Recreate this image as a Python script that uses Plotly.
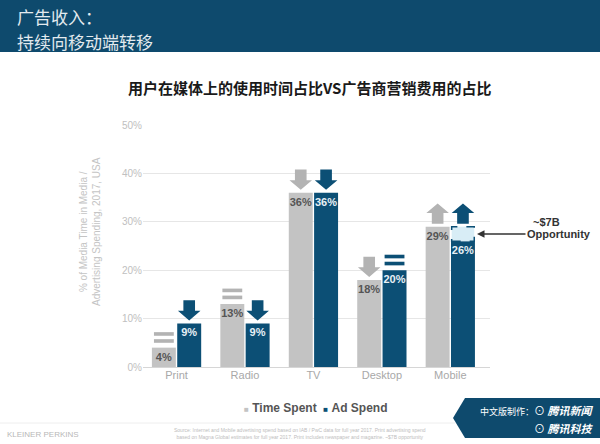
import plotly.graph_objects as go

CATEGORIES = ["Print", "Radio", "TV", "Desktop", "Mobile"]
TIME_SPENT = [4, 13, 36, 18, 29]
AD_SPEND = [9, 9, 36, 20, 26]
TIME_TREND = ["flat", "flat", "down", "down", "up"]
AD_TREND = ["down", "down", "down", "flat", "up"]
OPPORTUNITY_CATEGORY = "Mobile"
OPPORTUNITY_RANGE = [26, 29]
Y_TICKS = [0, 10, 20, 30, 40, 50]

GRAY = "#c3c3c3"
GRAY_ARROW = "#b3b3b3"
BLUE = "#0c4f75"
HEADER_BLUE = "#0e4a6d"
CJK = "Noto Sans CJK SC"
SANS = "Liberation Sans"

# plot area in pixels (600x444 canvas)
L, R, T, B = 143, 110, 125, 77
W, H = 600 - L - R, 444 - T - B

BAR_W = 0.35
BAR_GAP = 0.02


def px_x(px):
    return (px - L) / W


def px_y(py):
    return (444 - B - py) / H


def arrow_path(xc, base, direction):
    """Block arrow sitting just above a bar top, in data units."""
    hw_head, hw_stem = 0.165, 0.085
    gap, stem_h, head_h = 0.6, 2.2, 2.0
    y0 = base + gap
    if direction == "down":
        pts = [
            (xc, y0), (xc - hw_head, y0 + head_h), (xc - hw_stem, y0 + head_h),
            (xc - hw_stem, y0 + head_h + stem_h), (xc + hw_stem, y0 + head_h + stem_h),
            (xc + hw_stem, y0 + head_h), (xc + hw_head, y0 + head_h),
        ]
    else:
        pts = [
            (xc - hw_stem, y0), (xc - hw_stem, y0 + stem_h), (xc - hw_head, y0 + stem_h),
            (xc, y0 + stem_h + head_h), (xc + hw_head, y0 + stem_h),
            (xc + hw_stem, y0 + stem_h), (xc + hw_stem, y0),
        ]
    return "M " + " L ".join(f"{x:.4f},{y:.4f}" for x, y in pts) + " Z"


def trend_shapes(xc, base, direction, color):
    if direction == "flat":
        shapes = []
        for k in range(2):
            y0 = base + 1.0 + k * 1.45
            shapes.append(dict(
                type="rect", xref="x", yref="y",
                x0=xc - 0.145, x1=xc + 0.145, y0=y0, y1=y0 + 0.75,
                fillcolor=color, line=dict(width=0),
            ))
        return shapes
    return [dict(type="path", xref="x", yref="y", path=arrow_path(xc, base, direction),
                 fillcolor=color, line=dict(width=0))]


xs = list(range(len(CATEGORIES)))
gray_x = [x - BAR_W / 2 - BAR_GAP / 2 for x in xs]
blue_x = [x + BAR_W / 2 + BAR_GAP / 2 for x in xs]

fig = go.Figure()
fig.add_trace(go.Bar(
    x=xs, y=TIME_SPENT, name="Time Spent",
    width=BAR_W, offset=-BAR_W - BAR_GAP / 2,
    marker=dict(color=GRAY, line=dict(width=0)),
    text=[f"<b>{v}%</b>" for v in TIME_SPENT],
    textposition="inside", insidetextanchor="end", constraintext="none",
    textangle=0, textfont=dict(family=SANS, size=11, color="#555555"),
    cliponaxis=False,
))
fig.add_trace(go.Bar(
    x=xs, y=AD_SPEND, name="Ad Spend",
    width=BAR_W, offset=BAR_GAP / 2,
    marker=dict(color=BLUE, line=dict(width=0)),
    text=[f"<b>{v}%</b>" for v in AD_SPEND],
    textposition="inside", insidetextanchor="end", constraintext="none",
    textangle=0, textfont=dict(family=SANS, size=11, color="#e8f0f5"),
    cliponaxis=False,
))

shapes = []
# header band
shapes.append(dict(type="rect", xref="paper", yref="paper",
                   x0=px_x(0), x1=px_x(600), y0=px_y(52), y1=px_y(0),
                   fillcolor=HEADER_BLUE, line=dict(width=0), layer="below"))
# faint footer rule
shapes.append(dict(type="line", xref="paper", yref="paper",
                   x0=px_x(0), x1=px_x(455), y0=px_y(423), y1=px_y(423),
                   line=dict(color="#eeeeee", width=1)))
# badge
bx = [465, 600, 600, 465, 453]
by = [398, 398, 438, 438, 418]
badge = "M " + " L ".join(f"{px_x(a):.4f},{px_y(b):.4f}" for a, b in zip(bx, by)) + " Z"
shapes.append(dict(type="path", xref="paper", yref="paper", path=badge,
                   fillcolor=HEADER_BLUE, line=dict(width=0)))

opp_i = CATEGORIES.index(OPPORTUNITY_CATEGORY)
for i in xs:
    shapes += trend_shapes(gray_x[i], TIME_SPENT[i], TIME_TREND[i], GRAY_ARROW)
    ad_base = OPPORTUNITY_RANGE[1] if i == opp_i else AD_SPEND[i]
    shapes += trend_shapes(blue_x[i], ad_base, AD_TREND[i], BLUE)

# opportunity dashed box
shapes.append(dict(type="rect", xref="x", yref="y",
                   x0=blue_x[opp_i] - BAR_W / 2 + 0.01, x1=blue_x[opp_i] + BAR_W / 2 - 0.01,
                   y0=OPPORTUNITY_RANGE[0], y1=OPPORTUNITY_RANGE[1],
                   fillcolor="#d8edf6", line=dict(color=BLUE, width=1.5, dash="dash")))

legend_text = (
    f"<span style='color:{GRAY};font-size:8px'>■</span> <b>Time Spent</b>  "
    f"<span style='color:{BLUE};font-size:8px'>■</span> <b>Ad Spend</b>"
)

annotations = [
    dict(text="广告收入：", x=px_x(15), y=px_y(16), xref="paper", yref="paper",
         xanchor="left", yanchor="middle", showarrow=False,
         font=dict(family=CJK, size=17, color="#e3eaef")),
    dict(text="持续向移动端转移", x=px_x(15), y=px_y(41), xref="paper", yref="paper",
         xanchor="left", yanchor="middle", showarrow=False,
         font=dict(family=CJK, size=17, color="#e3eaef")),
    dict(text="<b>用户在媒体上的使用时间占比VS广告商营销费用的占比</b>",
         x=px_x(309), y=px_y(88), xref="paper", yref="paper",
         xanchor="center", yanchor="middle", showarrow=False,
         font=dict(family=CJK, size=15, color="#1a1a1a")),
    dict(text="% of Media Time in Media /<br>Advertising Spending, 2017, USA",
         x=px_x(90), y=px_y(232), xref="paper", yref="paper", textangle=-90,
         xanchor="center", yanchor="middle", showarrow=False,
         font=dict(family=SANS, size=10, color="#c4c4c4")),
    dict(text="<b>~$7B</b>", x=px_x(546), y=px_y(222), xref="paper", yref="paper",
         xanchor="center", yanchor="middle", showarrow=False,
         font=dict(family=SANS, size=11, color="#333333")),
    dict(text="<b>Opportunity</b>", x=blue_x[opp_i] + BAR_W / 2 + 0.03,
         y=sum(OPPORTUNITY_RANGE) / 2, xref="x", yref="y",
         ax=82, ay=0, showarrow=True, arrowhead=2, arrowsize=1, arrowwidth=1.5,
         arrowcolor="#333333", font=dict(family=SANS, size=11, color="#333333")),
    dict(text=legend_text, x=px_x(316), y=px_y(408), xref="paper", yref="paper",
         xanchor="center", yanchor="middle", showarrow=False,
         font=dict(family=SANS, size=12, color="#555555")),
    dict(text="KLEINER PERKINS", x=px_x(5), y=px_y(434), xref="paper", yref="paper",
         xanchor="left", yanchor="middle", showarrow=False,
         font=dict(family=SANS, size=8, color="#b8b8b8")),
    dict(text="Source: Internet and Mobile advertising spend based on IAB / PwC data for full year 2017. Print advertising spend<br>"
              "based on Magna Global estimates for full year 2017. Print includes newspaper and magazine. ~$7B opportunity",
         x=px_x(300), y=px_y(433), xref="paper", yref="paper",
         xanchor="center", yanchor="middle", showarrow=False,
         font=dict(family=SANS, size=5, color="#bdbdbd")),
    dict(text="<span style='font-size:9px'>中文版制作：</span>⊙ <b><i>腾讯新闻</i></b>",
         x=px_x(595), y=px_y(410), xref="paper", yref="paper",
         xanchor="right", yanchor="middle", showarrow=False,
         font=dict(family=CJK, size=11, color="#ffffff")),
    dict(text="⊙ <b><i>腾讯科技</i></b>", x=px_x(595), y=px_y(428),
         xref="paper", yref="paper", xanchor="right", yanchor="middle", showarrow=False,
         font=dict(family=CJK, size=11, color="#ffffff")),
]

fig.update_layout(
    width=600, height=444,
    margin=dict(l=L, r=R, t=T, b=B),
    paper_bgcolor="white", plot_bgcolor="white",
    showlegend=False,
    shapes=shapes,
    annotations=annotations,
)
fig.update_xaxes(
    range=[-0.49, 4.58], tickvals=xs, ticktext=CATEGORIES,
    showgrid=False, zeroline=False, showline=False, ticks="",
    tickfont=dict(family=SANS, size=11, color="#a8a8a8"),
)
fig.update_yaxes(
    range=[0, 50], tickvals=Y_TICKS, ticktext=[f"{v}%" for v in Y_TICKS],
    showgrid=True, gridcolor="#e6e6e6", gridwidth=1,
    zeroline=True, zerolinecolor="#d6d6d6", zerolinewidth=1,
    ticks="", tickfont=dict(family=SANS, size=10, color="#c0c0c0"),
)

fig.write_html(
    "out.html",
    config={"displayModeBar": False},
    post_script="document.body.style.margin='0';document.body.style.overflow='hidden';",
)
